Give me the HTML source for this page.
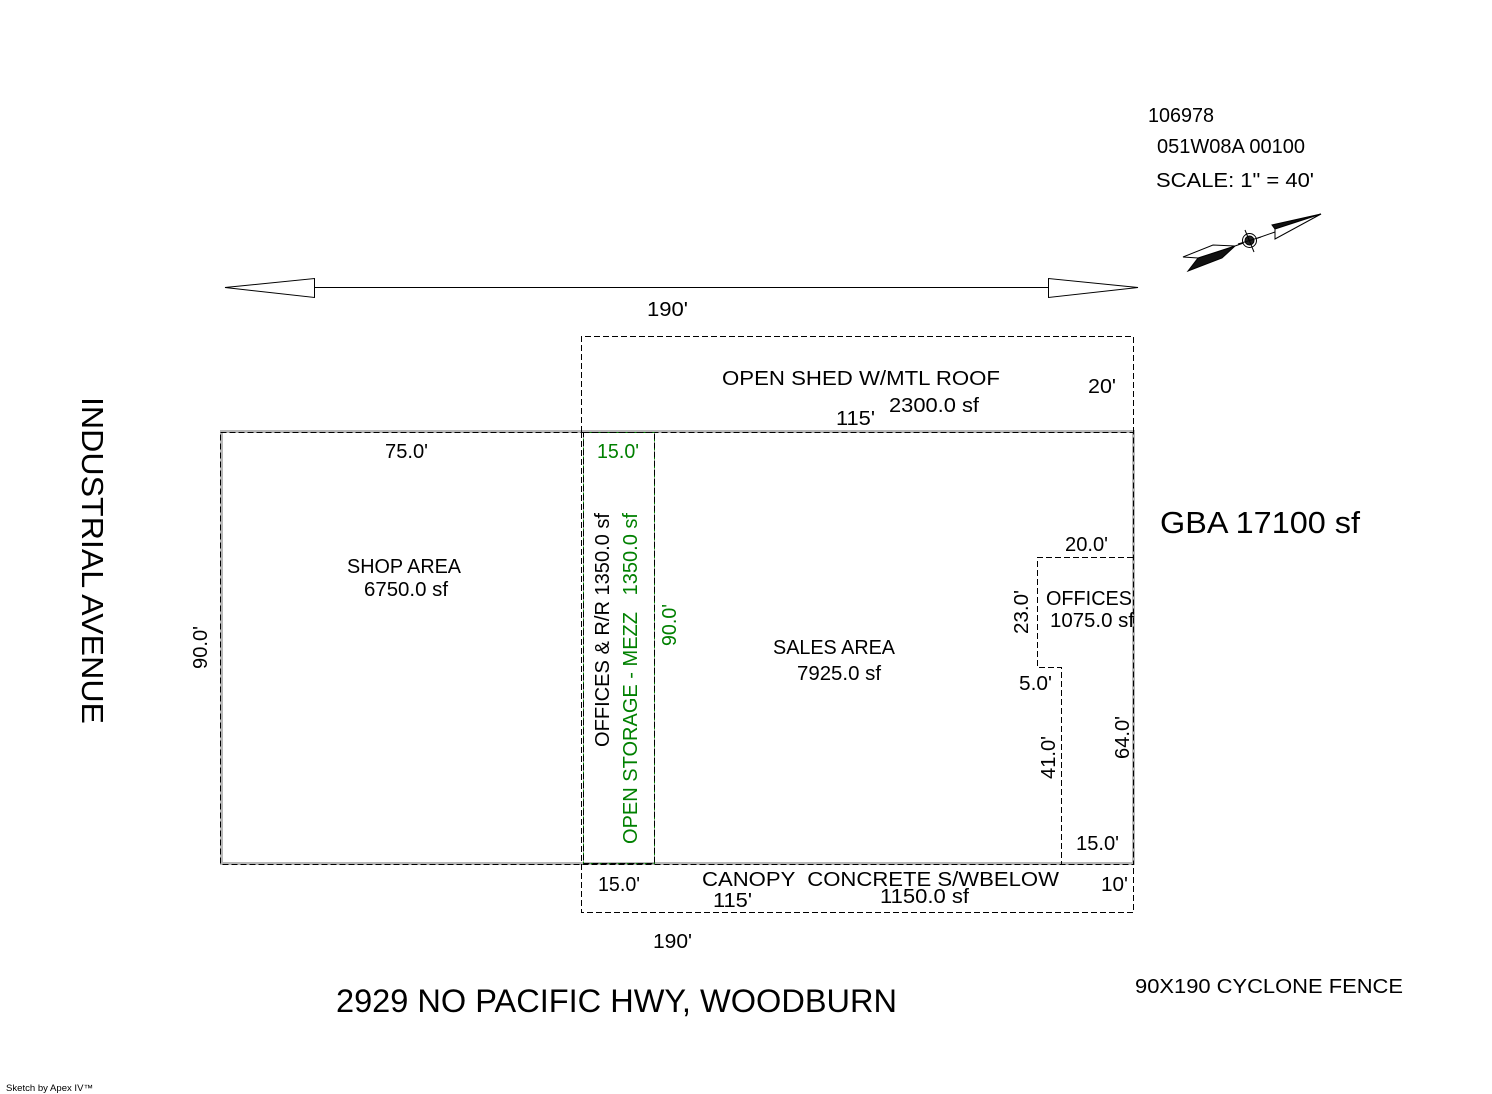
<!DOCTYPE html>
<html>
<head>
<meta charset="utf-8">
<style>
html,body{margin:0;padding:0;background:#fff;width:1492px;height:1094px;overflow:hidden}
svg{display:block}
text{font-family:"Liberation Sans",sans-serif;font-size:20px;fill:#000;white-space:pre}
.g{fill:#008000}
.d{fill:none;stroke:#000;stroke-width:1;stroke-dasharray:6 3;shape-rendering:crispEdges}
.dg{fill:none;stroke:#008000;stroke-width:1;stroke-dasharray:8 1;shape-rendering:crispEdges}
</style>
</head>
<body>
<svg width="1492" height="1094" viewBox="0 0 1492 1094" xmlns="http://www.w3.org/2000/svg">
<!-- gray wall outline -->
<g fill="#b8b8b8" shape-rendering="crispEdges">
<rect x="220" y="430" width="915" height="3"/>
<rect x="220" y="862" width="915" height="3"/>
<rect x="220" y="430" width="3" height="435"/>
<rect x="1132" y="430" width="3" height="435"/>
</g>
<!-- dashed outlines -->
<rect class="d" x="220.5" y="432.5" width="913" height="432"/>
<path class="d" d="M581.500 432V336.500H1133.500V432"/>
<path class="d" d="M581.500 864V912.500H1133.500V864"/>
<path class="d" d="M581.500 432V864"/>
<rect class="dg" x="583.5" y="432.5" width="71" height="431"/>
<rect class="d" x="583.5" y="432.5" width="71" height="431"/>
<path class="d" d="M1133 557.500H1037.500V667.500H1061.500V864"/>
<!-- dimension arrow -->
<g fill="none" stroke="#000" stroke-width="1">
<path d="M314.500 287.500H1048.500"/>
<path d="M225 287.500L314.500 278.500V297.500Z"/>
<path d="M1138 287.500L1048.500 278.500V297.500Z"/>
</g>
<!-- compass -->
<g stroke="#000" stroke-width="1">
<path d="M1321 214L1272 225L1275 229Z" fill="#111"/>
<path d="M1321 214L1275 239L1275 229Z" fill="#fff"/>
<path d="M1188 271L1198 258L1235 246L1222 258Z" fill="#111"/>
<path d="M1183 257L1213 245L1235 246L1198 258Z" fill="#fff"/>
<path d="M1235 246L1275 232" fill="none"/>
<circle cx="1249.500" cy="240.500" r="7" fill="#fff"/>
<circle cx="1249.500" cy="240.500" r="4.500" fill="#222"/>
<path d="M1245 230L1254 252M1238 244L1261 237" fill="none"/>
</g>
<!-- text -->
<text x="1148" y="122" textLength="66" lengthAdjust="spacingAndGlyphs">106978</text>
<text x="1157" y="153" textLength="148" lengthAdjust="spacingAndGlyphs">051W08A 00100</text>
<text x="1156" y="187" textLength="158" lengthAdjust="spacingAndGlyphs">SCALE: 1" = 40'</text>
<text x="647" y="316" textLength="41" lengthAdjust="spacingAndGlyphs">190'</text>
<text x="722" y="385" textLength="278" lengthAdjust="spacingAndGlyphs">OPEN SHED W/MTL ROOF</text>
<text x="889" y="412" textLength="90" lengthAdjust="spacingAndGlyphs">2300.0 sf</text>
<text x="1088" y="393" textLength="28" lengthAdjust="spacingAndGlyphs">20'</text>
<text x="836" y="425" textLength="39" lengthAdjust="spacingAndGlyphs">115'</text>
<text x="385" y="458" textLength="43" lengthAdjust="spacingAndGlyphs">75.0'</text>
<text class="g" x="597" y="458" textLength="42" lengthAdjust="spacingAndGlyphs">15.0'</text>
<text x="1160" y="533" style="font-size:31px" textLength="200" lengthAdjust="spacingAndGlyphs">GBA 17100 sf</text>
<text x="1065" y="551" textLength="43" lengthAdjust="spacingAndGlyphs">20.0'</text>
<text x="347" y="573" textLength="114" lengthAdjust="spacingAndGlyphs">SHOP AREA</text>
<text x="364" y="596" textLength="84" lengthAdjust="spacingAndGlyphs">6750.0 sf</text>
<text x="1046" y="605" textLength="86" lengthAdjust="spacingAndGlyphs">OFFICES</text>
<text x="1050" y="627" textLength="84" lengthAdjust="spacingAndGlyphs">1075.0 sf</text>
<text x="773" y="654" textLength="122" lengthAdjust="spacingAndGlyphs">SALES AREA</text>
<text x="797" y="680" textLength="84" lengthAdjust="spacingAndGlyphs">7925.0 sf</text>
<text x="1019" y="690" textLength="33" lengthAdjust="spacingAndGlyphs">5.0'</text>
<text x="1076" y="850" textLength="43" lengthAdjust="spacingAndGlyphs">15.0'</text>
<text x="598" y="891" textLength="42" lengthAdjust="spacingAndGlyphs">15.0'</text>
<text x="702" y="886" textLength="357" lengthAdjust="spacingAndGlyphs" xml:space="preserve">CANOPY  CONCRETE S/WBELOW</text>
<text x="880" y="903" textLength="89" lengthAdjust="spacingAndGlyphs">1150.0 sf</text>
<text x="713" y="907" textLength="39" lengthAdjust="spacingAndGlyphs">115'</text>
<text x="1101" y="891" textLength="27" lengthAdjust="spacingAndGlyphs">10'</text>
<text x="653" y="948" textLength="39" lengthAdjust="spacingAndGlyphs">190'</text>
<text x="336" y="1012" style="font-size:32px" textLength="561" lengthAdjust="spacingAndGlyphs">2929 NO PACIFIC HWY, WOODBURN</text>
<text x="1135" y="993" textLength="268" lengthAdjust="spacingAndGlyphs">90X190 CYCLONE FENCE</text>
<text x="6" y="1091" style="font-size:9px" textLength="87" lengthAdjust="spacingAndGlyphs">Sketch by Apex IV™</text>
<!-- rotated text -->
<text transform="translate(82 397) rotate(90)" style="font-size:31px" textLength="327" lengthAdjust="spacingAndGlyphs">INDUSTRIAL AVENUE</text>
<text transform="translate(207 669) rotate(-90)" textLength="43" lengthAdjust="spacingAndGlyphs">90.0'</text>
<text transform="translate(609 747) rotate(-90)" textLength="234" lengthAdjust="spacingAndGlyphs">OFFICES &amp; R/R 1350.0 sf</text>
<text class="g" transform="translate(637 844) rotate(-90)" textLength="331" lengthAdjust="spacingAndGlyphs" xml:space="preserve">OPEN STORAGE - MEZZ   1350.0 sf</text>
<text class="g" transform="translate(676 646) rotate(-90)" textLength="42" lengthAdjust="spacingAndGlyphs">90.0'</text>
<text transform="translate(1028 634) rotate(-90)" textLength="44" lengthAdjust="spacingAndGlyphs">23.0'</text>
<text transform="translate(1055 779) rotate(-90)" textLength="43" lengthAdjust="spacingAndGlyphs">41.0'</text>
<text transform="translate(1129 759) rotate(-90)" textLength="43" lengthAdjust="spacingAndGlyphs">64.0'</text>
</svg>
</body>
</html>
